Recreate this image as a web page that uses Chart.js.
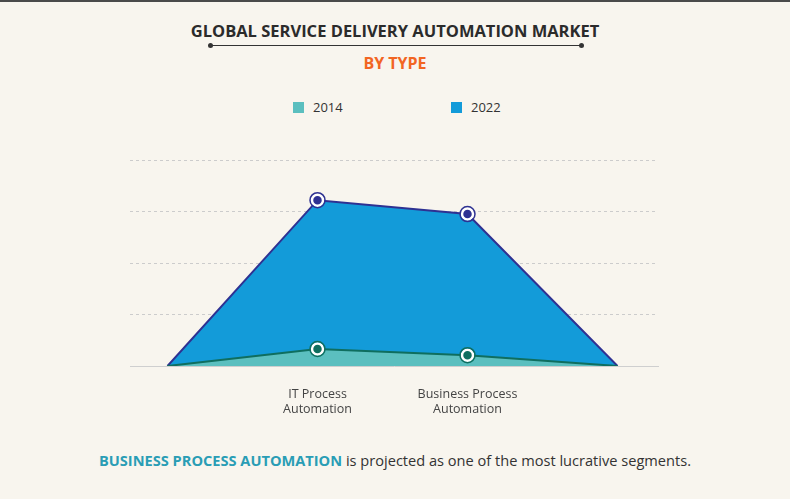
<!DOCTYPE html>
<html lang="en">
<head>
    <meta charset="UTF-8">
    <title>Global Service Delivery Automation Market</title>
    <script src="https://cdn.jsdelivr.net/npm/chart.js"></script>
    <style>
        html, body {
            margin: 0;
            padding: 0;
        }
        body {
            width: 790px;
            height: 499px;
            background-color: #f8f5ee;
            position: relative;
            overflow: hidden;
            font-family: "Open Sans", sans-serif;
        }
        .topline {
            position: absolute;
            top: 0;
            left: 0;
            width: 790px;
            height: 2px;
            background: #4a4a4a;
        }
        .title {
            position: absolute;
            top: 19px;
            left: 0;
            width: 790px;
            text-align: center;
            font-size: 16.5px;
            font-weight: 700;
            color: #2b2b2b;
        }
        .rule {
            position: absolute;
            top: 45px;
            left: 210px;
            width: 372px;
            height: 1px;
            background: #333;
        }
        .rule:before, .rule:after {
            content: "";
            position: absolute;
            top: -2px;
            width: 5px;
            height: 5px;
            border-radius: 50%;
            background: #333;
        }
        .rule:before { left: -2px; }
        .rule:after { right: -2px; }
        .subtitle {
            position: absolute;
            top: 52px;
            left: 0;
            width: 790px;
            text-align: center;
            font-size: 16px;
            font-weight: 700;
            color: #f26522;
        }
        #legend {
            position: absolute;
            top: 98px;
            left: 0;
            width: 790px;
            height: 18px;
        }
        #legend .item {
            position: absolute;
            top: 0;
            font-size: 13px;
            color: #333;
            line-height: 18px;
        }
        #legend .box {
            display: inline-block;
            width: 11px;
            height: 11px;
            margin-right: 9px;
            vertical-align: -1px;
        }
        #areaChart {
            position: absolute;
            top: 150px;
            left: 0;
        }
        .note {
            position: absolute;
            top: 450px;
            left: 0;
            width: 790px;
            text-align: center;
            font-size: 14.6px;
            color: #333;
        }
        .note b {
            color: #2a9db5;
        }
    </style>
</head>
<body>
    <div class="topline"></div>
    <div class="title">GLOBAL SERVICE DELIVERY AUTOMATION MARKET</div>
    <div class="rule"></div>
    <div class="subtitle">BY TYPE</div>
    <div id="legend"></div>
    <canvas id="areaChart" width="790" height="286"></canvas>
    <div class="note"><b>BUSINESS PROCESS AUTOMATION</b> is projected as one of the most lucrative segments.</div>

    <script>
        // Categories (first and last are empty anchor points at zero)
        const categories = ['', ['IT Process', 'Automation'], ['Business Process', 'Automation'], ''];
        const years = ['2014', '2022'];
        const values2014 = [0, 0.33, 0.21, 0];
        const values2022 = [0, 3.22, 2.95, 0];

        const fillColors = ['#5bbfbf', '#139bd9'];
        const lineColors = ['#0f6e5f', '#2e3192'];

        const toPoints = arr => arr.map((v, i) => ({ x: i, y: v }));

        // outer ring round each marker
        const ringPlugin = {
            id: 'ring',
            afterDatasetsDraw(chart) {
                const ctx = chart.ctx;
                chart.data.datasets.forEach((ds, di) => {
                    const meta = chart.getDatasetMeta(di);
                    meta.data.forEach((pt, i) => {
                        if (ds.pointRadius[i] === 0) return;
                        ctx.save();
                        ctx.beginPath();
                        ctx.arc(pt.x, pt.y, 7.5, 0, Math.PI * 2);
                        ctx.lineWidth = 1.5;
                        ctx.strokeStyle = ds.borderColor;
                        ctx.stroke();
                        ctx.restore();
                    });
                });
            }
        };

        const makeDataset = (i, values) => ({
            label: years[i],
            data: toPoints(values),
            backgroundColor: fillColors[i],
            borderColor: lineColors[i],
            borderWidth: 2,
            fill: 'origin',
            tension: 0,
            pointRadius: [0, 5.5, 5.5, 0],
            pointBackgroundColor: lineColors[i],
            pointBorderColor: '#ffffff',
            pointBorderWidth: 2.5,
            pointHoverRadius: 5.5
        });

        const ctx = document.getElementById('areaChart').getContext('2d');
        const chart = new Chart(ctx, {
            type: 'line',
            data: {
                datasets: [makeDataset(0, values2014), makeDataset(1, values2022)]
            },
            options: {
                responsive: false,
                animation: false,
                layout: {
                    padding: { left: 130, right: 132, top: 10, bottom: 6 }
                },
                plugins: {
                    legend: { display: false },
                    tooltip: { enabled: false }
                },
                scales: {
                    x: {
                        type: 'linear',
                        min: -0.25,
                        max: 3.27,
                        afterBuildTicks(scale) {
                            scale.ticks = [{ value: 1 }, { value: 2 }];
                        },
                        ticks: {
                            autoSkip: false,
                            maxRotation: 0,
                            padding: 13,
                            color: '#444',
                            font: { family: 'Open Sans', size: 12.5 },
                            callback: value => categories[value]
                        },
                        grid: { display: false },
                        border: { display: true, color: '#cfcfcf', width: 1 }
                    },
                    y: {
                        min: 0,
                        max: 4,
                        ticks: { display: false, stepSize: 1 },
                        grid: {
                            color: c => c.tick.value === 0 ? 'rgba(0,0,0,0)' : '#cccccc',
                            lineWidth: 1,
                            drawTicks: false
                        },
                        border: { display: false, dash: [3, 3] }
                    }
                }
            },
            plugins: [ringPlugin]
        });

        // simple html legend from the dataset colours
        const legendX = [293, 451];
        const legendEl = document.getElementById('legend');
        chart.data.datasets.forEach((ds, i) => {
            const item = document.createElement('div');
            item.className = 'item';
            item.style.left = legendX[i] + 'px';
            item.innerHTML = '<span class="box" style="background:' + ds.backgroundColor + '"></span>' + ds.label;
            legendEl.appendChild(item);
        });
    </script>
</body>
</html>
